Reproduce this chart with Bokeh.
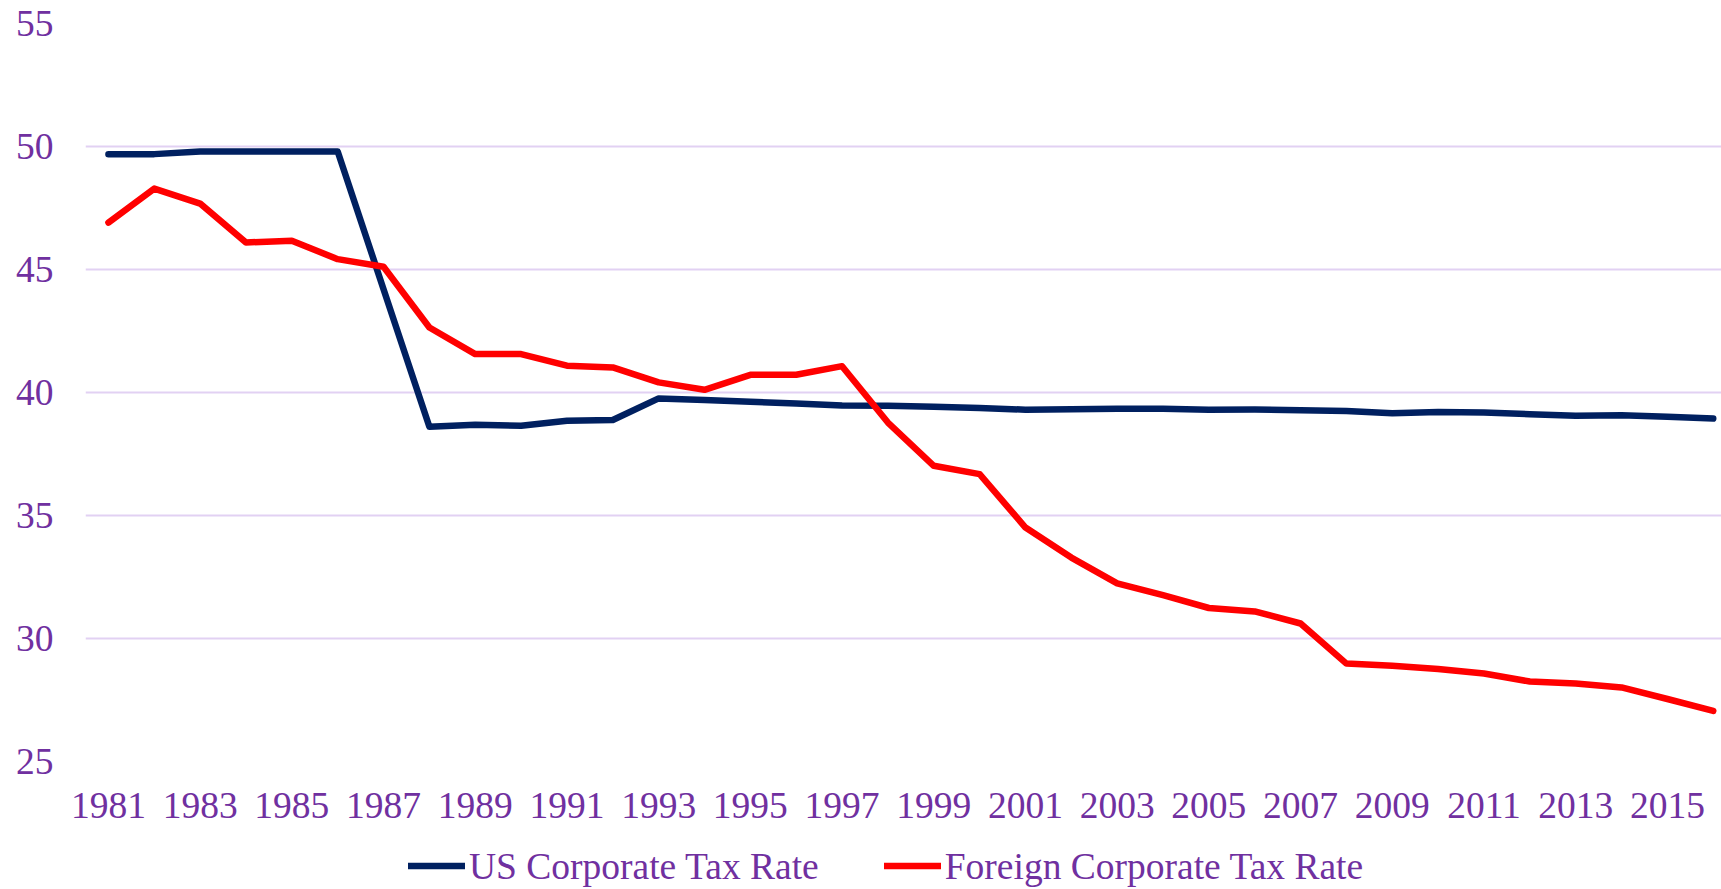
from bokeh.plotting import figure
from bokeh.models import ColumnDataSource, FixedTicker, Range1d, Legend, LegendItem
from bokeh.layouts import column
from bokeh.embed import file_html
from bokeh.resources import INLINE

years = list(range(1981, 2017))
us_rate = [49.69, 49.69, 49.80, 49.80, 49.80, 49.80, 44.20, 38.61, 38.69, 38.65,
           38.85, 38.88, 39.76, 39.70, 39.62, 39.55, 39.47, 39.46, 39.42, 39.37,
           39.30, 39.32, 39.34, 39.34, 39.30, 39.31, 39.28, 39.25, 39.16, 39.21,
           39.19, 39.12, 39.05, 39.08, 39.01, 38.94]
foreign_rate = [46.91, 48.29, 47.68, 46.10, 46.17, 45.42, 45.11, 42.64, 41.56, 41.56,
                41.09, 41.02, 40.41, 40.11, 40.72, 40.72, 41.07, 38.78, 37.02, 36.68,
                34.51, 33.29, 32.24, 31.76, 31.24, 31.10, 30.61, 28.98, 28.89, 28.76,
                28.58, 28.25, 28.17, 28.01, 27.54, 27.06]
x_tick_years = list(range(1981, 2016, 2))
y_ticks = [25, 30, 35, 40, 45, 50, 55]
series_names = ["US Corporate Tax Rate", "Foreign Corporate Tax Rate"]

PURPLE = "#7030A0"
NAVY = "#002060"
RED = "#FF0000"
GRID = "#E2D1F3"
FONT = "Liberation Serif"
LW = 6.5

src = ColumnDataSource(dict(year=years, us=us_rate, fr=foreign_rate))

# main chart
p = figure(width=1721, height=842, output_backend="svg",
           toolbar_location=None,
           x_range=Range1d(1980.5, 2016.18), y_range=Range1d(25, 55),
           min_border_left=85, min_border_right=0, min_border_top=23,
           min_border_bottom=81)
p.outline_line_color = None
p.background_fill_color = "white"
p.border_fill_color = "white"

p.line("year", "us", source=src, line_color=NAVY, line_width=LW,
       line_join="round", line_cap="round")
p.line("year", "fr", source=src, line_color=RED, line_width=LW,
       line_join="round", line_cap="round")

p.xaxis.ticker = FixedTicker(ticks=x_tick_years)
p.yaxis.ticker = FixedTicker(ticks=y_ticks)
for ax in (p.xaxis, p.yaxis):
    ax.axis_line_color = None
    ax.major_tick_line_color = None
    ax.minor_tick_line_color = None
    ax.major_label_text_font = FONT
    ax.major_label_text_font_size = "37.5px"
    ax.major_label_text_color = PURPLE
p.yaxis.major_label_standoff = 26
p.xaxis.major_label_standoff = 25

p.xgrid.grid_line_color = None
p.ygrid.grid_line_color = GRID
p.ygrid.grid_line_width = 2

# legend strip below the chart (its series renderers fall outside its ranges,
# so only the legend entries show)
lg = figure(width=1721, height=47, output_backend="svg", toolbar_location=None,
            x_axis_type=None, y_axis_type=None,
            x_range=Range1d(0, 1), y_range=Range1d(0, 1),
            min_border_left=85, min_border_right=0, min_border_top=0,
            min_border_bottom=0)
lg.outline_line_color = None
lg.background_fill_color = "white"
lg.border_fill_color = "white"
k_us = lg.line("year", "us", source=src, line_color=NAVY, line_width=LW,
               line_cap="round")
k_fr = lg.line("year", "fr", source=src, line_color=RED, line_width=LW,
               line_cap="round")

legend = Legend(items=[LegendItem(label=series_names[0], renderers=[k_us]),
                       LegendItem(label=series_names[1], renderers=[k_fr])],
                orientation="horizontal", location="center_left",
                label_text_font=FONT, label_text_font_size="37.5px",
                label_text_color=PURPLE, glyph_width=57, glyph_height=20,
                label_standoff=4, spacing=65, padding=0, margin=323,
                border_line_color=None, background_fill_alpha=0)
lg.add_layout(legend, "center")

open("out.html", "w").write(file_html(column(p, lg, spacing=0), INLINE))
